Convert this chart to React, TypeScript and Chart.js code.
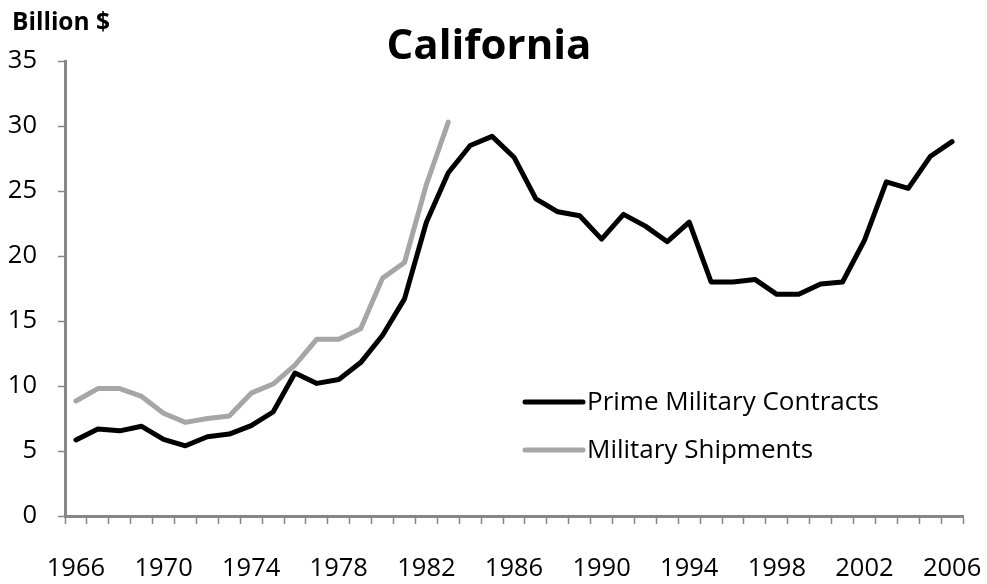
import React, { useEffect, useRef } from "react";
import { Chart, registerables } from "chart.js";

Chart.register(...registerables);

const years: string[] = [
  "1966", "1967", "1968", "1969", "1970", "1971", "1972", "1973", "1974", "1975",
  "1976", "1977", "1978", "1979", "1980", "1981", "1982", "1983", "1984", "1985",
  "1986", "1987", "1988", "1989", "1990", "1991", "1992", "1993", "1994", "1995",
  "1996", "1997", "1998", "1999", "2000", "2001", "2002", "2003", "2004", "2005",
  "2006",
];

const primeContracts: number[] = [
  5.85, 6.7, 6.55, 6.9, 5.9, 5.4, 6.1, 6.3, 6.95, 8.0,
  11.0, 10.2, 10.5, 11.8, 13.9, 16.7, 22.6, 26.4, 28.5, 29.2,
  27.6, 24.4, 23.4, 23.1, 21.3, 23.2, 22.3, 21.1, 22.6, 18.0,
  18.0, 18.2, 17.05, 17.05, 17.85, 18.0, 21.2, 25.7, 25.2, 27.65,
  28.8,
];

const militaryShipments: (number | null)[] = [
  8.85, 9.8, 9.8, 9.2, 7.9, 7.2, 7.5, 7.7, 9.45, 10.15,
  11.6, 13.6, 13.6, 14.4, 18.3, 19.5, 25.5, 30.3,
  null, null, null, null, null, null, null, null, null, null, null, null,
  null, null, null, null, null, null, null, null, null, null, null,
];

const yTicks: number[] = [0, 5, 10, 15, 20, 25, 30, 35];

const titleText = "California";
const unitText = "Billion $";
const seriesNames: string[] = ["Prime Military Contracts", "Military Shipments"];
const seriesColors: string[] = ["#000000", "#A6A6A6"];

const FONT = "'Open Sans', sans-serif";

const overlayPlugin = {
  id: "overlay",
  afterDraw(chart: any) {
    const ctx = chart.ctx;
    const area = chart.chartArea;
    ctx.save();
    // Title
    ctx.fillStyle = "#000";
    ctx.font = `bold 42px ${FONT}`;
    ctx.textAlign = "center";
    ctx.textBaseline = "alphabetic";
    ctx.fillText(titleText, 489, 59);
    // Unit label
    ctx.font = `bold 24.5px ${FONT}`;
    ctx.textAlign = "left";
    ctx.fillText(unitText, 12, 30);
    // Legend
    const lx0 = area.left + 460;
    const lx1 = area.left + 518;
    const rows = [area.top + 341, area.top + 389];
    ctx.font = `26px ${FONT}`;
    ctx.textBaseline = "middle";
    seriesNames.forEach((name, i) => {
      ctx.strokeStyle = seriesColors[i];
      ctx.lineWidth = 5;
      ctx.lineCap = "round";
      ctx.beginPath();
      ctx.moveTo(lx0, rows[i]);
      ctx.lineTo(lx1, rows[i]);
      ctx.stroke();
      ctx.fillStyle = "#000";
      ctx.fillText(name, lx1 + 4, rows[i] + 1);
    });
    ctx.restore();
  },
};

export default function App() {
  const canvasRef = useRef<HTMLCanvasElement | null>(null);

  useEffect(() => {
    document.body.style.margin = "0";
    const canvas = canvasRef.current;
    if (!canvas) return;
    const chart = new Chart(canvas, {
      type: "line",
      data: {
        labels: years,
        datasets: [
          {
            label: seriesNames[0],
            data: primeContracts,
            borderColor: seriesColors[0],
            backgroundColor: seriesColors[0],
            borderWidth: 5,
            pointRadius: 0,
            tension: 0,
            borderJoinStyle: "round",
            borderCapStyle: "round",
          },
          {
            label: seriesNames[1],
            data: militaryShipments,
            borderColor: seriesColors[1],
            backgroundColor: seriesColors[1],
            borderWidth: 5,
            pointRadius: 0,
            tension: 0,
            spanGaps: false,
            borderJoinStyle: "round",
            borderCapStyle: "round",
          },
        ],
      },
      options: {
        animation: false,
        responsive: false,
        maintainAspectRatio: false,
        devicePixelRatio: 1,
        layout: { padding: { top: 61, left: 0, right: 24, bottom: 0 } },
        plugins: {
          legend: { display: false },
          title: { display: false },
          tooltip: { enabled: false },
        },
        scales: {
          x: {
            type: "category",
            offset: true,
            grid: {
              display: true,
              offset: true,
              drawOnChartArea: false,
              drawTicks: true,
              tickLength: 8,
              tickColor: "#868686",
              tickWidth: 1.5,
            },
            border: { display: true, color: "#868686", width: 3 },
            ticks: {
              autoSkip: false,
              maxRotation: 0,
              minRotation: 0,
              padding: 29,
              color: "#000",
              font: { family: FONT, size: 25.5 },
              callback: (_v: any, i: number) => (i % 4 === 0 ? years[i] : ""),
            },
            afterFit: (s: any) => {
              s.height = 68;
              s.paddingLeft = 0;
              s.paddingRight = 0;
            },
          },
          y: {
            type: "linear",
            min: yTicks[0],
            max: yTicks[yTicks.length - 1],
            afterBuildTicks: (s: any) => {
              s.ticks = yTicks.map((v) => ({ value: v }));
            },
            grid: {
              display: true,
              drawOnChartArea: false,
              drawTicks: true,
              tickLength: 7,
              tickColor: "#868686",
              tickWidth: 1.5,
            },
            border: { display: true, color: "#868686", width: 3 },
            ticks: {
              padding: 21,
              color: "#000",
              font: { family: FONT, size: 25.5 },
            },
            afterFit: (s: any) => {
              s.width = 65;
              s.paddingTop = 0;
              s.paddingBottom = 0;
            },
          },
        },
      },
      plugins: [overlayPlugin],
    } as any);
    return () => chart.destroy();
  }, []);

  return (
    <div style={{ position: "absolute", left: 0, top: 0, width: 987, height: 584, background: "#fff" }}>
      <canvas ref={canvasRef} width={987} height={584} style={{ width: 987, height: 584 }} />
    </div>
  );
}
